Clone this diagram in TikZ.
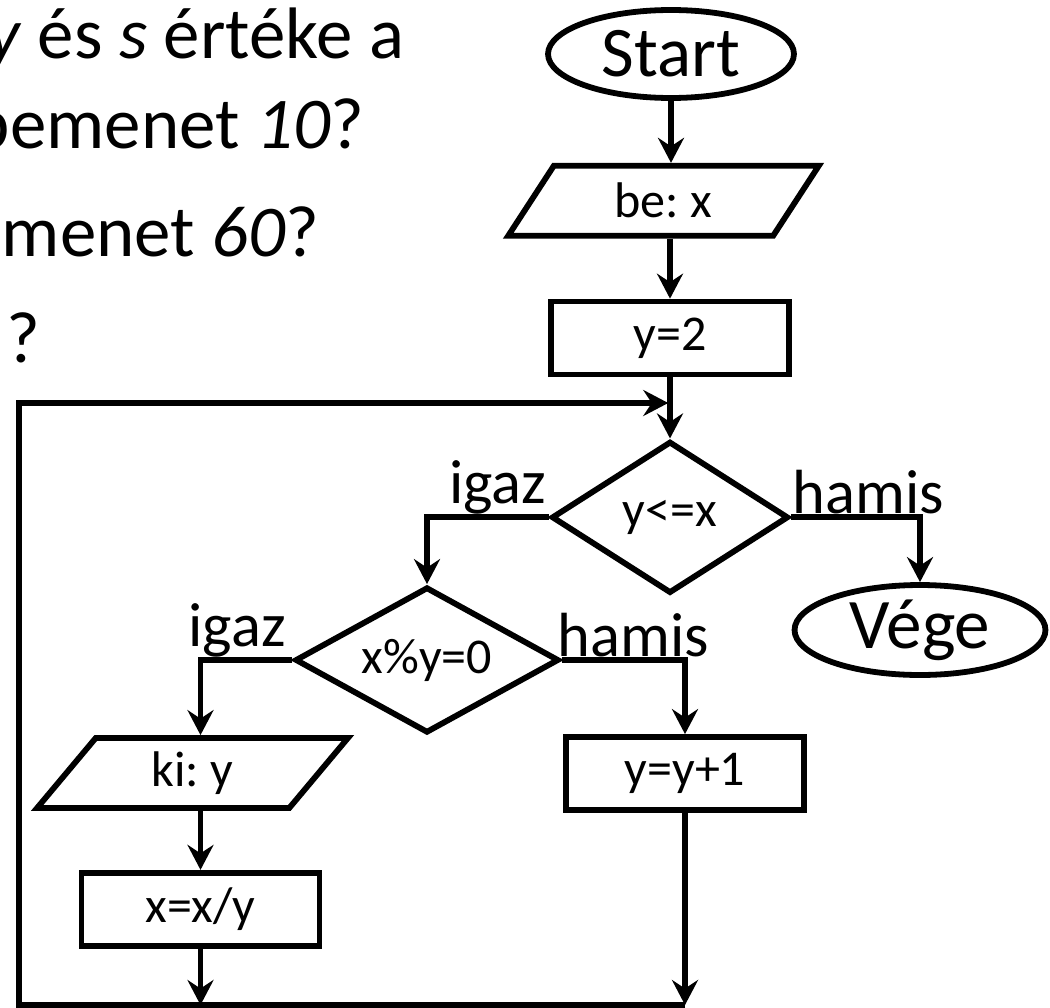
\documentclass[tikz,border=0pt]{standalone}
\usepackage{fontspec}
\setmainfont{Carlito}
\usetikzlibrary{positioning,arrows.meta,shapes.geometric}
\newcommand{\fQst}{\fontsize{41.5}{48}\selectfont}
\newcommand{\fTerm}{\fontsize{40.5}{48}\selectfont}
\newcommand{\fLbl}{\fontsize{35.5}{42}\selectfont}
\newcommand{\fNode}{\fontsize{28.5}{34}\selectfont}
\frenchspacing

\begin{document}
\begin{tikzpicture}[x=0.02cm,y=-0.02cm,line width=3.3pt,line join=miter,
    term/.style={draw,ellipse,inner sep=0pt,minimum width=4.92cm,minimum height=1.76cm,font=\fTerm},
    io/.style={draw,trapezium,trapezium left angle=60,trapezium right angle=120,trapezium stretches=true,
               inner sep=0pt,minimum width=6.22cm,minimum height=1.4cm,font=\fNode},
    box/.style={draw,rectangle,inner sep=0pt,minimum width=4.76cm,minimum height=1.46cm,font=\fNode},
    cond/.style={draw,diamond,aspect=1.6,inner sep=0pt,font=\fNode},
    arr/.style={-{Stealth[length=0.5cm,width=0.52cm,inset=0.17cm]}},
    lbl/.style={inner sep=0pt,anchor=south,font=\fLbl},
    qst/.style={inner sep=0pt,font=\fQst}]
  \useasboundingbox (0,0) rectangle (1050,1007);
  \clip (0,0) rectangle (1050,1007);

  % question lines, cut at the left edge
  \node[qst,anchor=base east] (q1) at (407,59) {\textit{y} és \textit{s} értéke a};
  \node[qst,anchor=base east] (q2) at (367,148) {bemenet \textit{10}?};
  \node[qst,anchor=base west] (q3) at (-1,256) {menet \textit{60}?};
  \node[qst,anchor=base west] (q4) at (4,362) {?};

  % main column
  \node[term] (start) at (671,54) {Start};
  \node[io,below=1.24cm of start,xshift=-0.15cm] (be) {be: x};
  \node[box,below=1.2cm of be,xshift=0.13cm] (y2) {y=2};
  \node[cond,below=1.22cm of y2,minimum width=4.74cm,minimum height=3.04cm] (c1) {y<=x};
  \node[term,minimum width=5.02cm,minimum height=1.8cm] (vege) at (920,630) {Vége};

  % loop body
  \node[cond,minimum width=5.28cm,minimum height=2.92cm] (c2) at (427,660) {x\%y=0};
  \node[io] (ki) at (192.5,773) {ki: y};
  \node[box,below=1.18cm of ki,xshift=0.16cm] (xx) {x=x/y};
  \node[box] (inc) at (685,773.5) {y=y+1};

  \coordinate (bl) at (19,1005);
  \coordinate (tl) at (19,403);

  \draw[arr] (start.south) -- (start.south |- be.north);
  \draw[arr] (be.south -| y2.north) -- (y2.north);
  \draw[arr] (y2.south) -- (c1.north);
  \draw[arr] (c1.west) -| node[lbl,pos=.21] (t1) {igaz} (c2.north);
  \draw[arr] (c1.east) -| node[lbl,pos=.3] (f1) {hamis} (vege.north);
  \draw[arr] (c2.west) -| node[lbl,pos=.3] (t2) {igaz} (ki.north -| xx.north);
  \draw[arr] (c2.east) -| node[lbl,pos=.29] (f2) {hamis} (inc.north);
  \draw[arr] (ki.south -| xx.north) -- (xx.north);
  \draw[arr] (xx.south) -- (xx.south |- bl);
  \draw[arr] (inc.south) -- (inc.south |- bl);
  \draw[arr,shorten >=1pt] (inc.south |- bl) -- (bl) -- (tl) -- (tl -| y2.south);
\end{tikzpicture}
\end{document}
